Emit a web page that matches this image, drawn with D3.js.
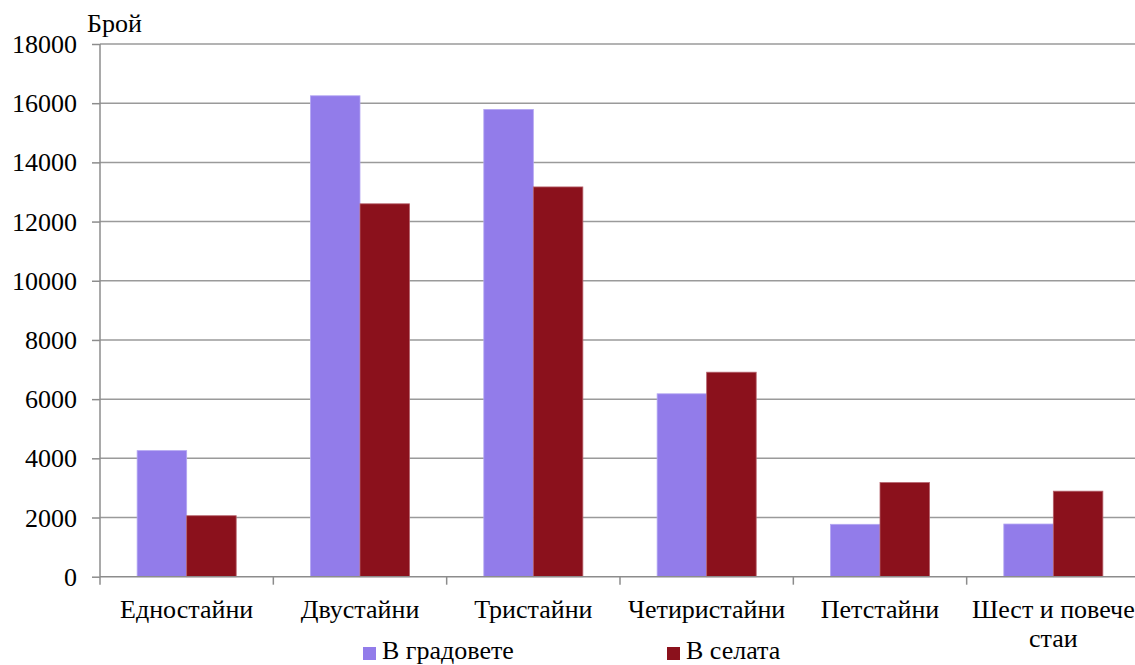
<!DOCTYPE html>
<html><head><meta charset="utf-8"><script src="https://cdn.jsdelivr.net/npm/d3@7"></script></head>
<body style="margin:0">
<svg id="s" width="1135" height="665"></svg>
<script>
const categories = ["Едностайни", "Двустайни", "Тристайни", "Четиристайни", "Петстайни", "Шест и повече стаи"];
const seriesNames = ["В градовете", "В селата"];
const cityValues = [4260, 16250, 15790, 6180, 1770, 1780];
const villageValues = [2060, 12600, 13170, 6910, 3180, 2890];
const yTicks = [0, 2000, 4000, 6000, 8000, 10000, 12000, 14000, 16000, 18000];
const colors = ["#927cea", "#8b111c"];
const strokes = ["#b3a6f2", "#b5606a"];
const fontFamily = "Liberation Serif";
const fontSize = 26;

const svg = d3.select("#s");
const plotLeft = 100, plotRight = 1140, plotTop = 44, plotBottom = 576.7;

const x = d3.scaleBand().domain(categories).range([plotLeft, plotRight]).paddingInner(0).paddingOuter(0);
// gap width 150% like the original
const xs = d3.scaleBand().domain(seriesNames).range([0, x.bandwidth()]).paddingInner(0).paddingOuter(0.75);
const y = d3.scaleLinear().domain([0, 18000]).range([plotBottom, plotTop]);

// gridlines
svg.append("g")
    .selectAll("line")
    .data(yTicks.filter(d => d > 0))
    .enter().append("line")
    .attr("x1", plotLeft).attr("x2", 1135)
    .attr("y1", d => y(d)).attr("y2", d => y(d))
    .attr("stroke", "#9a9a9a")
    .attr("stroke-width", 1.5);

// bars
const data = categories.map((c, i) => ({ cat: c, vals: [cityValues[i], villageValues[i]] }));
const groups = svg.append("g")
    .selectAll("g")
    .data(data)
    .enter().append("g")
    .attr("transform", d => "translate(" + x(d.cat) + ",0)");

groups.selectAll("rect")
    .data(d => d.vals.map((v, i) => ({ name: seriesNames[i], value: v, i: i })))
    .enter().append("rect")
    .attr("x", d => xs(d.name))
    .attr("width", xs.bandwidth())
    .attr("y", d => y(d.value))
    .attr("height", d => plotBottom - y(d.value))
    .attr("fill", d => colors[d.i])
    .attr("stroke", d => strokes[d.i])
    .attr("stroke-width", 0.8);

// y axis: lines drawn by d3.axisLeft, labels as plain text
const yAxis = svg.append("g").attr("transform", "translate(" + plotLeft + ",0)")
    .call(d3.axisLeft(y).tickValues(yTicks).tickSize(8).tickFormat(""));
yAxis.select(".domain").attr("stroke", "#8c8c8c").attr("stroke-width", 1.5).attr("d", "M0," + plotTop + "V" + plotBottom);
yAxis.selectAll(".tick line").attr("stroke", "#8c8c8c").attr("stroke-width", 1.5);
yAxis.selectAll(".tick text").remove();

svg.selectAll(".ylabel")
    .data(yTicks)
    .enter().append("text")
    .attr("x", plotLeft - 23)
    .attr("y", d => y(d) + 9)
    .attr("text-anchor", "end")
    .attr("font-family", fontFamily)
    .attr("font-size", fontSize)
    .text(d => d);

// x axis
svg.append("line")
    .attr("x1", plotLeft).attr("x2", 1135)
    .attr("y1", plotBottom).attr("y2", plotBottom)
    .attr("stroke", "#8c8c8c").attr("stroke-width", 1.5);
svg.selectAll(".xtick")
    .data(categories)
    .enter().append("line")
    .attr("x1", d => x(d)).attr("x2", d => x(d))
    .attr("y1", plotBottom).attr("y2", plotBottom + 8)
    .attr("stroke", "#8c8c8c").attr("stroke-width", 1.5);

const labelLines = c => c === "Шест и повече стаи" ? ["Шест и повече", "стаи"] : [c];
categories.forEach(c => {
    labelLines(c).forEach((line, j) => {
        svg.append("text")
            .attr("x", x(c) + x.bandwidth() / 2)
            .attr("y", plotBottom + 41 + j * 29)
            .attr("text-anchor", "middle")
            .attr("font-family", fontFamily)
            .attr("font-size", fontSize)
            .text(line);
    });
});

// axis title
svg.append("text")
    .attr("x", 87).attr("y", 32)
    .attr("font-family", fontFamily)
    .attr("font-size", fontSize)
    .text("Брой");

// legend
const legendX = [363, 667];
seriesNames.forEach((name, i) => {
    svg.append("rect")
        .attr("x", legendX[i]).attr("y", 647)
        .attr("width", 13).attr("height", 13)
        .attr("fill", colors[i]);
    svg.append("text")
        .attr("x", legendX[i] + 19).attr("y", 659)
        .attr("font-family", fontFamily)
        .attr("font-size", fontSize)
        .text(name);
});
</script>
</body>
</html>
